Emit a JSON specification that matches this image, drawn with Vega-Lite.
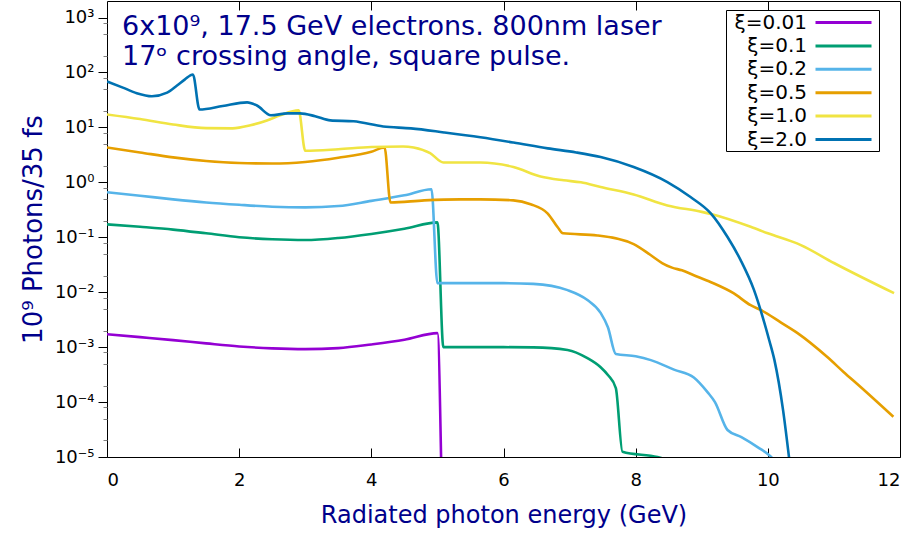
{
  "$schema": "https://vega.github.io/schema/vega-lite/v6.json",
  "width": 793,
  "height": 456,
  "autosize": {"type": "none"},
  "padding": {"left": 107, "top": 1, "right": 17, "bottom": 76},
  "background": "white",
  "title": {
    "text": ["6x10⁹, 17.5 GeV electrons. 800nm laser", "17ᵒ crossing angle, square pulse."],
    "anchor": "start",
    "frame": "group",
    "orient": "top",
    "baseline": "top",
    "offset": 0,
    "dx": 15,
    "dy": 70,
    "font": "DejaVu Sans",
    "fontSize": 27,
    "fontWeight": "normal",
    "color": "#00008b",
    "lineHeight": 30
  },
  "config": {
    "view": {"stroke": "black", "strokeWidth": 1},
    "axis": {"grid": false, "domain": false, "labelFont": "DejaVu Sans", "labelFontSize": 18, "labelColor": "black", "tickColor": "black", "titleFont": "DejaVu Sans", "titleFontSize": 24, "titleFontWeight": "normal", "titleColor": "#00008b"},
    "legend": {
      "orient": "none",
      "legendX": 619,
      "legendY": 9,
      "title": null,
      "labelFont": "DejaVu Sans",
      "labelFontSize": 20,
      "labelColor": "black",
      "labelAlign": "right",
      "labelOffset": -48,
      "labelLimit": 300,
      "symbolType": "M-2.8,0H2.8",
      "symbolSize": 400,
      "symbolStrokeWidth": 3,
      "symbolOffset": 105,
      "strokeColor": "black",
      "fillColor": "white",
      "padding": 1,
      "rowPadding": 1.4
    }
  },
  "data": {
    "values": [
      {"xi": "ξ=0.01", "E": 0, "N": 0.00172},
      {"xi": "ξ=0.01", "E": 0.5, "N": 0.00152},
      {"xi": "ξ=0.01", "E": 1, "N": 0.00134},
      {"xi": "ξ=0.01", "E": 1.5, "N": 0.00117},
      {"xi": "ξ=0.01", "E": 2, "N": 0.00103},
      {"xi": "ξ=0.01", "E": 2.5, "N": 0.00095},
      {"xi": "ξ=0.01", "E": 3, "N": 0.00092},
      {"xi": "ξ=0.01", "E": 3.5, "N": 0.00096},
      {"xi": "ξ=0.01", "E": 4, "N": 0.00112},
      {"xi": "ξ=0.01", "E": 4.5, "N": 0.00136},
      {"xi": "ξ=0.01", "E": 5.0, "N": 0.0018},
      {"xi": "ξ=0.01", "E": 5.06, "N": 0.000005},

      {"xi": "ξ=0.1", "E": 0, "N": 0.172},
      {"xi": "ξ=0.1", "E": 0.5, "N": 0.155},
      {"xi": "ξ=0.1", "E": 1, "N": 0.138},
      {"xi": "ξ=0.1", "E": 1.5, "N": 0.118},
      {"xi": "ξ=0.1", "E": 2, "N": 0.1},
      {"xi": "ξ=0.1", "E": 2.5, "N": 0.092},
      {"xi": "ξ=0.1", "E": 3, "N": 0.089},
      {"xi": "ξ=0.1", "E": 3.5, "N": 0.097},
      {"xi": "ξ=0.1", "E": 4, "N": 0.115},
      {"xi": "ξ=0.1", "E": 4.5, "N": 0.143},
      {"xi": "ξ=0.1", "E": 5.0, "N": 0.187},
      {"xi": "ξ=0.1", "E": 5.09, "N": 0.001},
      {"xi": "ξ=0.1", "E": 6.0, "N": 0.001},
      {"xi": "ξ=0.1", "E": 6.45, "N": 0.00099},
      {"xi": "ξ=0.1", "E": 6.97, "N": 0.00089},
      {"xi": "ξ=0.1", "E": 7.27, "N": 0.00063},
      {"xi": "ξ=0.1", "E": 7.47, "N": 0.00043},
      {"xi": "ξ=0.1", "E": 7.58, "N": 0.00031},
      {"xi": "ξ=0.1", "E": 7.70, "N": 0.00018},
      {"xi": "ξ=0.1", "E": 7.80, "N": 0.0000125},
      {"xi": "ξ=0.1", "E": 8.33, "N": 0.00001},
      {"xi": "ξ=0.1", "E": 8.4, "N": 0.0000095},

      {"xi": "ξ=0.2", "E": 0, "N": 0.66},
      {"xi": "ξ=0.2", "E": 0.5, "N": 0.57},
      {"xi": "ξ=0.2", "E": 1, "N": 0.49},
      {"xi": "ξ=0.2", "E": 1.5, "N": 0.43},
      {"xi": "ξ=0.2", "E": 2, "N": 0.39},
      {"xi": "ξ=0.2", "E": 2.5, "N": 0.36},
      {"xi": "ξ=0.2", "E": 3, "N": 0.35},
      {"xi": "ξ=0.2", "E": 3.5, "N": 0.37},
      {"xi": "ξ=0.2", "E": 4, "N": 0.46},
      {"xi": "ξ=0.2", "E": 4.5, "N": 0.58},
      {"xi": "ξ=0.2", "E": 4.91, "N": 0.75},
      {"xi": "ξ=0.2", "E": 5.0, "N": 0.0146},
      {"xi": "ξ=0.2", "E": 6.0, "N": 0.0146},
      {"xi": "ξ=0.2", "E": 6.45, "N": 0.0142},
      {"xi": "ξ=0.2", "E": 6.97, "N": 0.0109},
      {"xi": "ξ=0.2", "E": 7.27, "N": 0.0072},
      {"xi": "ξ=0.2", "E": 7.47, "N": 0.0042},
      {"xi": "ξ=0.2", "E": 7.58, "N": 0.0023},
      {"xi": "ξ=0.2", "E": 7.70, "N": 0.00075},
      {"xi": "ξ=0.2", "E": 8.0, "N": 0.00068},
      {"xi": "ξ=0.2", "E": 8.23, "N": 0.00058},
      {"xi": "ξ=0.2", "E": 8.58, "N": 0.00039},
      {"xi": "ξ=0.2", "E": 8.88, "N": 0.00028},
      {"xi": "ξ=0.2", "E": 9.09, "N": 0.00015},
      {"xi": "ξ=0.2", "E": 9.2, "N": 0.0001},
      {"xi": "ξ=0.2", "E": 9.39, "N": 0.000031},
      {"xi": "ξ=0.2", "E": 9.6, "N": 0.000023},
      {"xi": "ξ=0.2", "E": 9.85, "N": 0.000015},
      {"xi": "ξ=0.2", "E": 10.05, "N": 0.00001},
      {"xi": "ξ=0.2", "E": 10.1, "N": 0.0000085},

      {"xi": "ξ=0.5", "E": 0, "N": 4.3},
      {"xi": "ξ=0.5", "E": 0.5, "N": 3.5},
      {"xi": "ξ=0.5", "E": 1, "N": 2.85},
      {"xi": "ξ=0.5", "E": 1.5, "N": 2.45},
      {"xi": "ξ=0.5", "E": 2, "N": 2.25},
      {"xi": "ξ=0.5", "E": 2.5, "N": 2.2},
      {"xi": "ξ=0.5", "E": 3, "N": 2.35},
      {"xi": "ξ=0.5", "E": 3.5, "N": 2.8},
      {"xi": "ξ=0.5", "E": 4, "N": 3.6},
      {"xi": "ξ=0.5", "E": 4.2, "N": 4.3},
      {"xi": "ξ=0.5", "E": 4.29, "N": 0.43},
      {"xi": "ξ=0.5", "E": 4.8, "N": 0.47},
      {"xi": "ξ=0.5", "E": 5.35, "N": 0.49},
      {"xi": "ξ=0.5", "E": 5.65, "N": 0.49},
      {"xi": "ξ=0.5", "E": 6.15, "N": 0.47},
      {"xi": "ξ=0.5", "E": 6.41, "N": 0.4},
      {"xi": "ξ=0.5", "E": 6.67, "N": 0.27},
      {"xi": "ξ=0.5", "E": 6.82, "N": 0.152},
      {"xi": "ξ=0.5", "E": 6.9, "N": 0.118},
      {"xi": "ξ=0.5", "E": 7.42, "N": 0.108},
      {"xi": "ξ=0.5", "E": 7.97, "N": 0.075},
      {"xi": "ξ=0.5", "E": 8.23, "N": 0.047},
      {"xi": "ξ=0.5", "E": 8.4, "N": 0.034},
      {"xi": "ξ=0.5", "E": 8.55, "N": 0.028},
      {"xi": "ξ=0.5", "E": 8.7, "N": 0.025},
      {"xi": "ξ=0.5", "E": 8.88, "N": 0.0204},
      {"xi": "ξ=0.5", "E": 9.14, "N": 0.0152},
      {"xi": "ξ=0.5", "E": 9.48, "N": 0.0096},
      {"xi": "ξ=0.5", "E": 9.74, "N": 0.0058},
      {"xi": "ξ=0.5", "E": 9.9, "N": 0.0047},
      {"xi": "ξ=0.5", "E": 10.2, "N": 0.0028},
      {"xi": "ξ=0.5", "E": 10.45, "N": 0.0018},
      {"xi": "ξ=0.5", "E": 10.9, "N": 0.00066},
      {"xi": "ξ=0.5", "E": 11.15, "N": 0.00035},
      {"xi": "ξ=0.5", "E": 11.4, "N": 0.00019},
      {"xi": "ξ=0.5", "E": 11.9, "N": 0.000054},

      {"xi": "ξ=1.0", "E": 0, "N": 17.2},
      {"xi": "ξ=1.0", "E": 0.5, "N": 14.2},
      {"xi": "ξ=1.0", "E": 1, "N": 11.3},
      {"xi": "ξ=1.0", "E": 1.5, "N": 9.7},
      {"xi": "ξ=1.0", "E": 1.9, "N": 9.6},
      {"xi": "ξ=1.0", "E": 2.17, "N": 10.9},
      {"xi": "ξ=1.0", "E": 2.42, "N": 13.4},
      {"xi": "ξ=1.0", "E": 2.62, "N": 16.6},
      {"xi": "ξ=1.0", "E": 2.9, "N": 20.4},
      {"xi": "ξ=1.0", "E": 3.0, "N": 3.75},
      {"xi": "ξ=1.0", "E": 3.5, "N": 4.0},
      {"xi": "ξ=1.0", "E": 4.0, "N": 4.4},
      {"xi": "ξ=1.0", "E": 4.48, "N": 4.5},
      {"xi": "ξ=1.0", "E": 4.64, "N": 4.3},
      {"xi": "ξ=1.0", "E": 4.89, "N": 3.4},
      {"xi": "ξ=1.0", "E": 5.09, "N": 2.3},
      {"xi": "ξ=1.0", "E": 5.65, "N": 2.3},
      {"xi": "ξ=1.0", "E": 6.15, "N": 1.9},
      {"xi": "ξ=1.0", "E": 6.56, "N": 1.28},
      {"xi": "ξ=1.0", "E": 6.91, "N": 1.09},
      {"xi": "ξ=1.0", "E": 7.17, "N": 1.0},
      {"xi": "ξ=1.0", "E": 7.47, "N": 0.82},
      {"xi": "ξ=1.0", "E": 7.97, "N": 0.6},
      {"xi": "ξ=1.0", "E": 8.48, "N": 0.38},
      {"xi": "ξ=1.0", "E": 9.0, "N": 0.29},
      {"xi": "ξ=1.0", "E": 9.14, "N": 0.265},
      {"xi": "ξ=1.0", "E": 9.74, "N": 0.155},
      {"xi": "ξ=1.0", "E": 10.0, "N": 0.118},
      {"xi": "ξ=1.0", "E": 10.5, "N": 0.072},
      {"xi": "ξ=1.0", "E": 11.0, "N": 0.034},
      {"xi": "ξ=1.0", "E": 11.91, "N": 0.0096},

      {"xi": "ξ=2.0", "E": 0, "N": 68.6},
      {"xi": "ξ=2.0", "E": 0.24, "N": 53},
      {"xi": "ξ=2.0", "E": 0.45, "N": 42},
      {"xi": "ξ=2.0", "E": 0.68, "N": 37},
      {"xi": "ξ=2.0", "E": 0.91, "N": 43},
      {"xi": "ξ=2.0", "E": 1.06, "N": 58},
      {"xi": "ξ=2.0", "E": 1.18, "N": 75},
      {"xi": "ξ=2.0", "E": 1.3, "N": 92},
      {"xi": "ξ=2.0", "E": 1.4, "N": 21.2},
      {"xi": "ξ=2.0", "E": 1.75, "N": 24.5},
      {"xi": "ξ=2.0", "E": 2.12, "N": 28.5},
      {"xi": "ξ=2.0", "E": 2.27, "N": 25},
      {"xi": "ξ=2.0", "E": 2.48, "N": 16.6},
      {"xi": "ξ=2.0", "E": 2.73, "N": 18},
      {"xi": "ξ=2.0", "E": 2.92, "N": 18},
      {"xi": "ξ=2.0", "E": 3.15, "N": 16},
      {"xi": "ξ=2.0", "E": 3.38, "N": 13.4},
      {"xi": "ξ=2.0", "E": 3.73, "N": 12.9},
      {"xi": "ξ=2.0", "E": 4.18, "N": 10.4},
      {"xi": "ξ=2.0", "E": 4.6, "N": 9.6},
      {"xi": "ξ=2.0", "E": 5.1, "N": 8.1},
      {"xi": "ξ=2.0", "E": 5.65, "N": 6.6},
      {"xi": "ξ=2.0", "E": 6.15, "N": 5.3},
      {"xi": "ξ=2.0", "E": 6.67, "N": 4.15},
      {"xi": "ξ=2.0", "E": 7.1, "N": 3.5},
      {"xi": "ξ=2.0", "E": 7.47, "N": 2.88},
      {"xi": "ξ=2.0", "E": 7.97, "N": 1.9},
      {"xi": "ξ=2.0", "E": 8.48, "N": 1.01},
      {"xi": "ξ=2.0", "E": 8.83, "N": 0.54},
      {"xi": "ξ=2.0", "E": 9.14, "N": 0.27},
      {"xi": "ξ=2.0", "E": 9.39, "N": 0.101},
      {"xi": "ξ=2.0", "E": 9.59, "N": 0.038},
      {"xi": "ξ=2.0", "E": 9.79, "N": 0.011},
      {"xi": "ξ=2.0", "E": 9.92, "N": 0.0036},
      {"xi": "ξ=2.0", "E": 10.02, "N": 0.00135},
      {"xi": "ξ=2.0", "E": 10.1, "N": 0.00058},
      {"xi": "ξ=2.0", "E": 10.23, "N": 0.000072},
      {"xi": "ξ=2.0", "E": 10.32, "N": 0.00001},
      {"xi": "ξ=2.0", "E": 10.35, "N": 0.000005}
    ]
  },
  "layer": [
    {
      "mark": {"type": "line", "strokeWidth": 2.6, "clip": true, "interpolate": "monotone"},
      "encoding": {
        "x": {
          "field": "E", "type": "quantitative",
          "scale": {"domain": [0, 12], "nice": false},
          "axis": {"orient": "bottom", "values": [0, 2, 4, 6, 8, 10, 12], "tickSize": -9, "labelPadding": 23, "title": "Radiated photon energy (GeV)", "titlePadding": 14}
        },
        "y": {
          "field": "N", "type": "quantitative",
          "scale": {"type": "log", "domain": [0.00001, 2000], "nice": false},
          "axis": {"orient": "left", "values": [0.00001, 0.0001, 0.001, 0.01, 0.1, 1, 10, 100, 1000], "tickSize": 9, "labelPadding": 4,
            "labelExpr": "['10⁻⁵','10⁻⁴','10⁻³','10⁻²','10⁻¹','10⁰','10¹','10²','10³'][round(log(datum.value)/LN10)+5]",
            "title": "10⁹ Photons/35 fs", "titleFontSize": 26, "titlePadding": 8}
        },
        "color": {
          "field": "xi", "type": "nominal",
          "scale": {"domain": ["ξ=0.01", "ξ=0.1", "ξ=0.2", "ξ=0.5", "ξ=1.0", "ξ=2.0"], "range": ["#9400d3", "#009e73", "#56b4e9", "#e69f00", "#f0e442", "#0072b2"]},
          "legend": {}
        }
      }
    },
    {
      "mark": {"type": "point", "opacity": 0},
      "encoding": {
        "x": {
          "field": "E", "type": "quantitative",
          "axis": {"orient": "top", "values": [2, 4, 6, 8, 10], "tickSize": -9, "labels": false, "title": null}
        },
        "y": {
          "field": "N", "type": "quantitative",
          "axis": {"orient": "left", "values": [0.00002, 0.00005, 0.00008, 0.0002, 0.0005, 0.0008, 0.002, 0.005, 0.008, 0.02, 0.05, 0.08, 0.2, 0.5, 0.8, 2, 5, 8, 20, 50, 80, 200, 500, 800], "tickSize": 4, "tickColor": "#808080", "labels": false, "title": null}
        }
      }
    }
  ],
  "resolve": {"axis": {"x": "independent", "y": "independent"}}
}
